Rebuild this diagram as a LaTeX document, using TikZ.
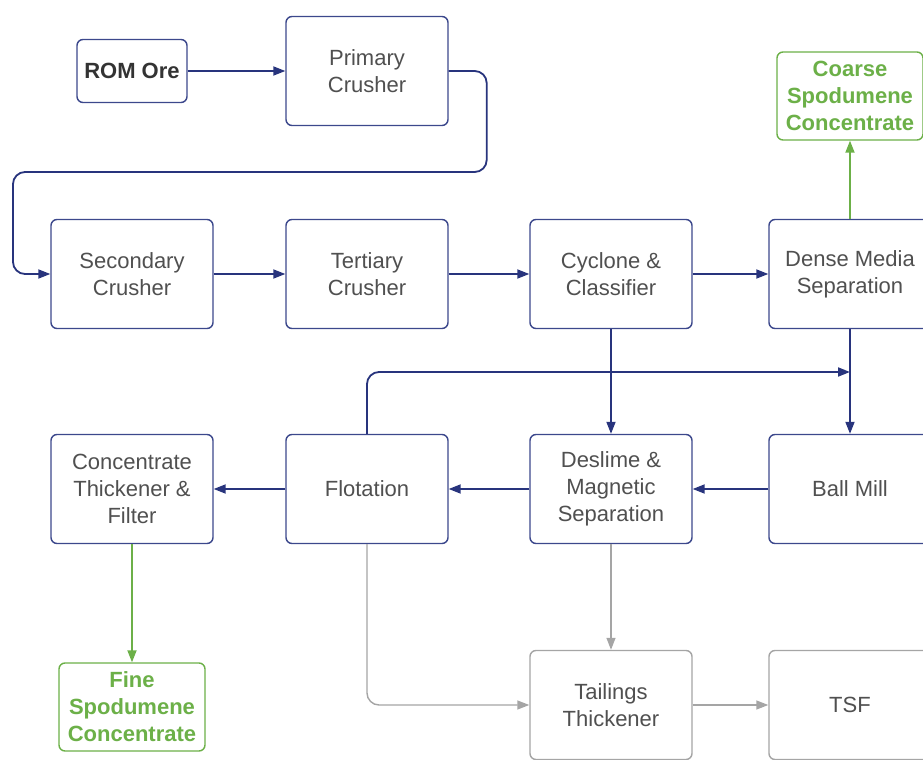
\documentclass[tikz,border=0pt]{standalone}
\usepackage{fontspec}
\setmainfont{Liberation Sans}
\usetikzlibrary{arrows.meta}
\definecolor{navy}{RGB}{40,52,125}
\definecolor{boxblue}{RGB}{60,72,140}
\definecolor{txtgray}{RGB}{80,80,80}
\definecolor{leaf}{RGB}{108,176,72}
\definecolor{tailgray}{RGB}{165,165,165}

\begin{document}
\begin{tikzpicture}[x=0.5pt, y=-0.5pt,
  unit/.style={draw=boxblue, line width=0.7pt, rounded corners=3pt, fill=white,
    minimum width=81pt, minimum height=54.5pt, align=center, text=txtgray,
    font=\fontsize{11}{13.5}\selectfont},
  product/.style={unit, draw=leaf, text=leaf, minimum width=73pt, minimum height=44pt,
    font=\fontsize{11}{13.5}\selectfont\bfseries},
  tail/.style={unit, draw=tailgray},
  flow/.style={draw=navy, line width=0.9pt, -{Triangle[length=6pt,width=4.5pt]}},
  green flow/.style={flow, draw=leaf},
  gray flow/.style={flow, draw=tailgray, line width=0.7pt}]
\useasboundingbox (0,0) rectangle (923,760);

% main units
\node[unit, minimum width=55pt, minimum height=31.5pt, text=black!80, font=\fontsize{11}{13.5}\selectfont\bfseries] (rom) at (132,71) {ROM Ore};
\node[unit] (prim) at (367,71) {Primary\\Crusher};
\node[unit] (sec) at (132,274) {Secondary\\Crusher};
\node[unit] (tert) at (367,274) {Tertiary\\Crusher};
\node[unit] (cyc) at (611,274) {Cyclone \&\\Classifier};
\node[unit] (dms) at (850,274) {Dense Media\\Separation};
\node[product] (coarse) at (850,96) {Coarse\\Spodumene\\Concentrate};
\node[unit] (conc) at (132,489) {Concentrate\\Thickener \&\\Filter};
\node[unit] (flot) at (367,489) {Flotation};
\node[unit] (desl) at (611,489) {Deslime \&\\Magnetic\\Separation};
\node[unit] (mill) at (850,489) {Ball Mill};
\node[product] (fine) at (132,707) {Fine\\Spodumene\\Concentrate};
\node[tail] (thick) at (611,705) {Tailings\\Thickener};
\node[tail] (tsf) at (850,705) {TSF};
\coordinate (join) at (850,372);

% crushing circuit
\draw[flow] (rom) -- (prim);
\draw[flow, rounded corners=6pt] (prim.east) -- ++(38,0) -- ++(0,101) -- (13,172) |- (sec.west);
\draw[flow] (sec) -- (tert);
\draw[flow] (tert) -- (cyc);
\draw[flow] (cyc) -- (dms);
\draw[green flow] (dms) -- (coarse);

% milling and flotation
\draw[flow] (cyc) -- (desl);
\draw[flow] (dms) -- (mill);
\draw[flow, rounded corners=6pt] (flot.north) |- (join);
\draw[flow] (mill) -- (desl);
\draw[flow] (desl) -- (flot);
\draw[flow] (flot) -- (conc);
\draw[green flow] (conc) -- (fine);

% tailings
\draw[gray flow, rounded corners=6pt] (flot.south) |- (thick.west);
\draw[gray flow] (desl) -- (thick);
\draw[gray flow] (thick) -- (tsf);
\end{tikzpicture}
\end{document}
